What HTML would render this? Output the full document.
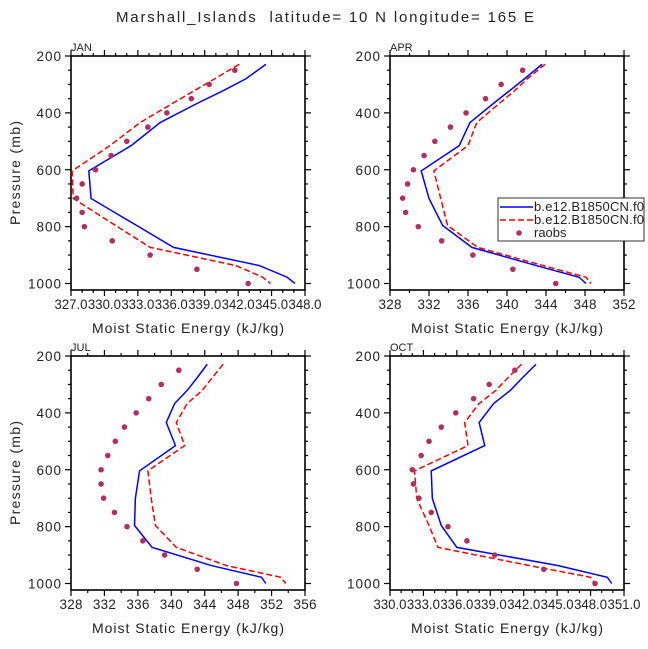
<!DOCTYPE html>
<html><head><meta charset="utf-8"><style>
html,body{margin:0;padding:0;background:#fff;}
svg{display:block;font-family:"Liberation Sans",sans-serif;}
</style></head><body>
<svg id="c" width="648" height="649" viewBox="0 0 648 649" xmlns="http://www.w3.org/2000/svg">
<text x="325" y="22" text-anchor="middle" font-size="15" fill="#222" textLength="418" xml:space="preserve" style="white-space:pre">Marshall_Islands  latitude= 10 N longitude= 165 E</text>
</svg>
<script>
const levels=[229,280,321,367,434,515,604,701,796,873,937,978,1000];
const obsLevels=[250,300,350,400,450,500,550,600,650,700,750,800,850,900,950,1000];
const janBlue=[344.5,342.7,340.7,338.3,335.0,332.4,328.6,328.8,332.9,336.2,343.9,346.4,347.1];
const janRed=[342.1,339.9,338.1,336.1,333.2,330.5,327.1,327.2,331.0,334.1,341.8,344.2,344.9];
const janObs=[341.7,339.4,337.8,335.6,333.9,332.0,330.6,329.2,328.0,327.5,328.0,328.2,330.7,334.1,338.3,342.9];
const aprBlue=[343.6,341.8,340.3,338.6,336.2,335.1,331.2,332.0,333.4,336.4,343.0,347.4,348.1];
const aprRed=[343.9,342.1,340.8,339.2,336.9,336.0,332.5,333.2,333.9,337.0,343.7,348.1,348.6];
const aprObs=[341.6,339.4,337.8,335.8,334.2,332.6,331.5,330.4,329.8,329.3,329.6,330.9,333.3,336.5,340.6,345.0];
const julBlue=[344.3,343.0,341.9,340.4,339.4,340.5,336.2,335.7,335.6,337.7,344.8,350.8,351.3];
const julRed=[346.2,344.8,343.7,341.9,340.6,341.6,337.2,337.6,338.1,340.6,346.6,353.1,353.7];
const julObs=[340.9,338.8,337.3,335.8,334.4,333.3,332.4,331.6,331.6,331.9,333.2,334.7,336.6,339.2,343.1,347.8];
const octBlue=[343.1,341.8,340.8,339.3,338.0,338.5,333.7,333.8,334.6,336.0,345.1,349.5,349.9];
const octRed=[341.8,340.5,339.5,338.0,336.7,337.0,332.2,332.4,333.5,334.3,342.5,348.0,348.4];
const octObs=[341.2,338.9,337.5,335.9,334.6,333.5,332.8,332.0,332.1,332.6,333.7,335.2,336.9,339.4,343.8,348.4];
const yTicks=[200,400,600,800,1000];
const janX=[327,330,333,336,339,342,345,348], aprX=[328,332,336,340,344,348,352], julX=[328,332,336,340,344,348,352,356], octX=[330,333,336,339,342,345,348,351];
const janXLab=["327.0","330.0","333.0","336.0","339.0","342.0","345.0","348.0"];
const octXLab=["330.0","333.0","336.0","339.0","342.0","345.0","348.0","351.0"];
const aprXLab=aprX.map(String), julXLab=julX.map(String);

const svg=document.getElementById('c');
const NS='http://www.w3.org/2000/svg';
function mk(tag,attrs,parent){const e=document.createElementNS(NS,tag);for(const k in attrs)e.setAttribute(k,attrs[k]);(parent||svg).appendChild(e);return e;}

const panels=[
 {name:'jan',label:'JAN',x0:71,y0:56,xs:janX,xl:janXLab,minor:3,blue:janBlue,red:janRed,obs:janObs},
 {name:'apr',label:'APR',x0:390,y0:56,xs:aprX,xl:aprXLab,minor:2,blue:aprBlue,red:aprRed,obs:aprObs},
 {name:'jul',label:'JUL',x0:71,y0:356,xs:julX,xl:julXLab,minor:2,blue:julBlue,red:julRed,obs:julObs},
 {name:'oct',label:'OCT',x0:390,y0:356,xs:octX,xl:octXLab,minor:3,blue:octBlue,red:octRed,obs:octObs}
];
const W=234,H=234;
panels.forEach((p,pi)=>{
 const g=mk('g',{});
 
 
 const xmin=p.xs[0],xmax=p.xs[p.xs.length-1];
 const X=v=>p.x0+(v-xmin)/(xmax-xmin)*W;
 const Y=mb=>p.y0+(mb-200)/800*227.5;
 const cp=mk('clipPath',{id:'cp'+pi},g);mk('rect',{x:p.x0,y:p.y0,width:W,height:H},cp);
 const box=mk('rect',{x:p.x0,y:p.y0,width:W,height:H,fill:'none',stroke:'#000','stroke-width':1.6},g);
 
 
 const lab=mk('text',{x:p.x0,y:p.y0-5,'font-size':11,fill:'#222'},g);lab.textContent=p.label;
 
 
 for(let mb=200;mb<=1000;mb+=50){
  const y=Y(mb),maj=mb%200===0,l=maj?6:3;
  mk('line',{x1:p.x0-l,y1:y,x2:p.x0,y2:y,stroke:'#000','stroke-width':1.2},g);
  mk('line',{x1:p.x0+W,y1:y,x2:p.x0+W+l,y2:y,stroke:'#000','stroke-width':1.2},g);
 }
 yTicks.forEach(t=>{const tx=mk('text',{x:p.x0-9,y:Y(t)+5,'font-size':13.5,'letter-spacing':1,'text-anchor':'end',fill:'#222'},g);tx.textContent=t;
  
  });
 const step=p.xs[1]-p.xs[0],ms=step/p.minor;
 for(let i=0;i<(p.xs.length-1)*p.minor+1;i++){
  const v=xmin+i*ms,x=X(v),maj=i%p.minor===0,l=maj?6:3;
  mk('line',{x1:x,y1:p.y0-l,x2:x,y2:p.y0,stroke:'#000','stroke-width':1.2},g);
  mk('line',{x1:x,y1:p.y0+H,x2:x,y2:p.y0+H+l,stroke:'#000','stroke-width':1.2},g);
 }
 p.xs.forEach((v,i)=>{
  const long=p.xl[i].length>3;
  const attrs={x:X(v),y:p.y0+H+19,'font-size':13.5,'text-anchor':'middle',fill:'#222'};
  if(long){attrs.textLength=33;attrs.lengthAdjust='spacingAndGlyphs';} else {attrs.textLength=23;}
  const tx=mk('text',attrs,g);tx.textContent=p.xl[i];
  
  });
 const xt=mk('text',{x:p.x0+W/2,y:p.y0+H+43,'font-size':14,'text-anchor':'middle',fill:'#222',textLength:192},g);xt.textContent='Moist Static Energy (kJ/kg)';
 
 
 if(p.x0<100){const yt=mk('text',{x:0,y:0,'font-size':14,'text-anchor':'middle',fill:'#222',textLength:104,transform:`translate(20,${p.y0+117}) rotate(-90)`},g);yt.textContent='Pressure (mb)';
  
  }
 const dg=mk('g',{'clip-path':`url(#cp${pi})`},g);
 const bl=mk('polyline',{points:levels.map((m,i)=>X(p.blue[i])+','+Y(m)).join(' '),fill:'none',stroke:'#0000ff','stroke-width':1.5},dg);
 
 
 const rl=mk('polyline',{points:levels.map((m,i)=>X(p.red[i])+','+Y(m)).join(' '),fill:'none',stroke:'#ff0000','stroke-width':1.5,'stroke-dasharray':'6,3'},dg);
 
 
 obsLevels.forEach((m,i)=>{const c=mk('circle',{cx:X(p.obs[i]),cy:Y(m),r:2.8,fill:'#b03060'},dg);
  
  });
});
const lg=mk('g',{});


mk('rect',{x:498,y:198,width:146,height:43,fill:'#fff',stroke:'#000','stroke-width':0.8},lg);
mk('line',{x1:500,y1:207,x2:533,y2:207,stroke:'#0000ff','stroke-width':1.5},lg);
mk('line',{x1:500,y1:220,x2:533,y2:220,stroke:'#ff0000','stroke-width':1.5,'stroke-dasharray':'6,3'},lg);
mk('circle',{cx:519,cy:233,r:2.8,fill:'#b03060'},lg);
[['b.e12.B1850CN.f0',211],['b.e12.B1850CN.f0',224],['raobs',237]].forEach((t,i)=>{
 const attrs={x:534,y:t[1],'font-size':13,fill:'#222'};
 if(i<2)attrs.textLength=110;
 const tx=mk('text',attrs,lg);tx.textContent=t[0];
 
 });
</script>
</body></html>
